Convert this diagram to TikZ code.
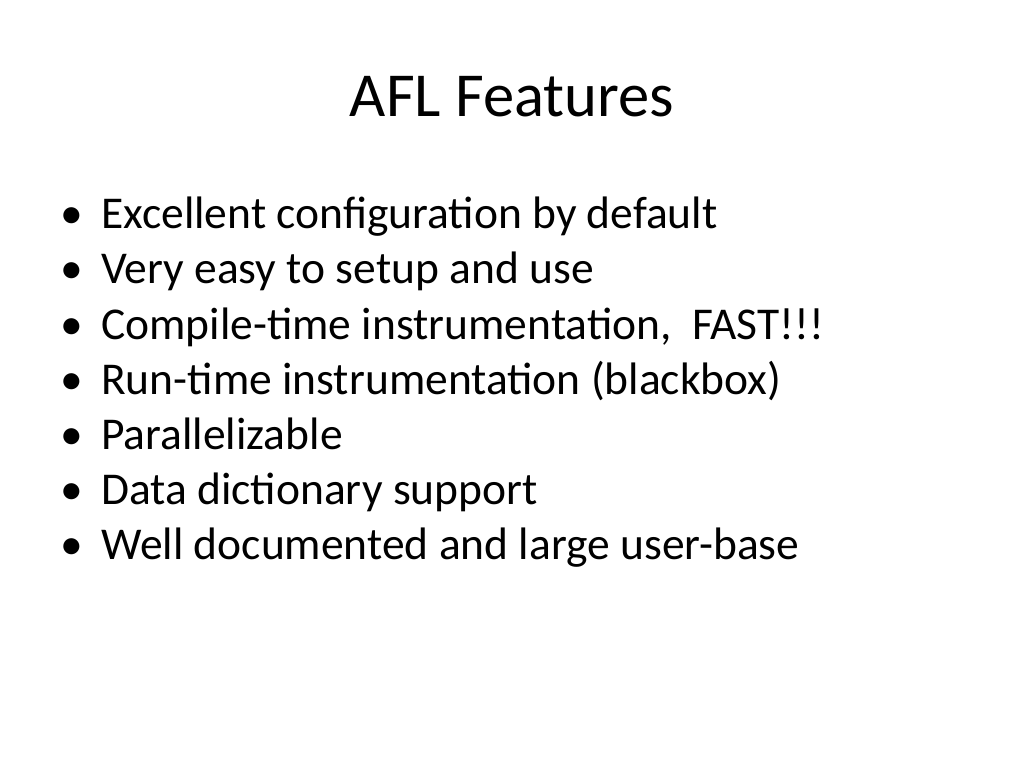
\documentclass[tikz,border=0pt]{standalone}
\usepackage{fontspec}
\setmainfont{Carlito}
\usetikzlibrary{positioning}
\tikzset{
  item/.style={anchor=base west, inner sep=0pt, font=\fontsize{32}{38}\selectfont},
  dot/.style={anchor=base west, inner sep=0pt, font=\fontsize{32}{38}\selectfont}
}
\begin{document}
\begin{tikzpicture}[x=0.703125pt, y=-0.703125pt]
  \useasboundingbox (0,0) rectangle (1024,768);
  \node (title) [anchor=base, inner sep=0pt, font=\fontsize{44}{52}\selectfont] at (512,117) {AFL Features};

  \foreach \txt [count=\i] in {Excellent configuration by default,
      Very easy to setup and use,
      {Compile-time instrumentation,\ \ FAST!!!},
      Run-time instrumentation (blackbox),
      Parallelizable,
      Data dictionary support,
      Well documented and large user-base} {
    \node (dot\i) [dot] at (60,{174+55*\i}) {•};
    \node (item\i) [item] at (101,{174+55*\i}) {\txt};
  }
\end{tikzpicture}
\end{document}
